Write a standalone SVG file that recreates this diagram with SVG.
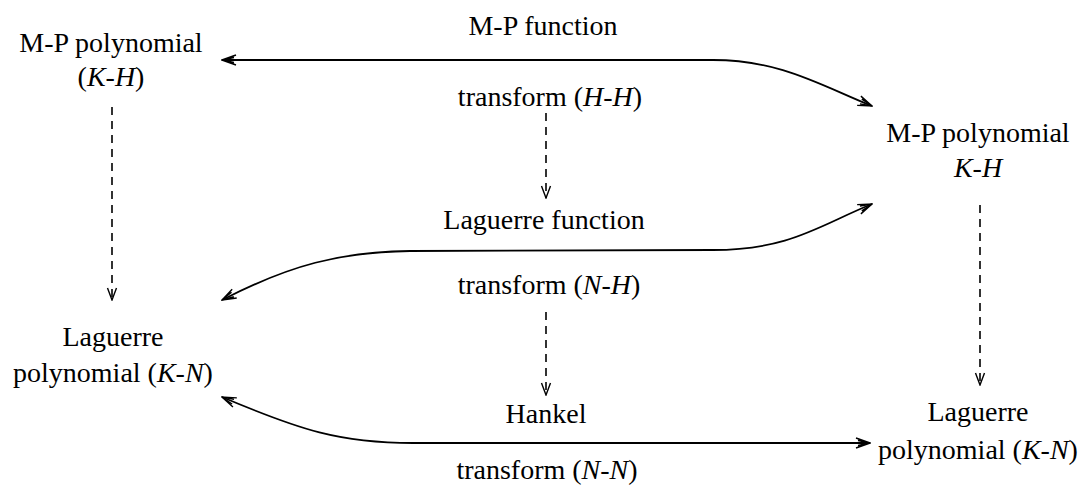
<svg xmlns="http://www.w3.org/2000/svg" width="1085" height="487" viewBox="0 0 1085 487">
<defs>
<marker id="ah" viewBox="0 0 16 12" refX="15" refY="6" markerWidth="16" markerHeight="12" markerUnits="userSpaceOnUse" orient="auto-start-reverse">
<path d="M1,1 L15,6 L1,11 M3,3.5 L15,6 L3,8.5" fill="none" stroke="#000" stroke-width="1.4"/>
</marker>
<marker id="dh" viewBox="0 0 12 14" refX="6" refY="13" markerWidth="12" markerHeight="14" markerUnits="userSpaceOnUse" orient="0">
<path d="M1.5,1 L6,13 L10.5,1" fill="none" stroke="#000" stroke-width="1.4"/>
</marker>
</defs>
<style>
text{font-family:"Liberation Serif","Times New Roman",serif;font-size:28px;fill:#000;text-anchor:middle}
.i{font-style:italic}
.c{fill:none;stroke:#000;stroke-width:1.8}
.d{fill:none;stroke:#000;stroke-width:1.6;stroke-dasharray:8 6}
</style>
<rect width="1085" height="487" fill="#fff"/>
<g id="connectors">
<path class="c" d="M222,60 L713,60 C780,60 820,85 872,106" marker-start="url(#ah)" marker-end="url(#ah)"/>
<path class="c" d="M222,300 C290,265 340,252 410,251 L713,250 C790,250 820,225 872,204" marker-start="url(#ah)" marker-end="url(#ah)"/>
<path class="c" d="M222,397 C300,430 340,443 413,443 L870,443" marker-start="url(#ah)" marker-end="url(#ah)"/>
<path class="d" d="M112,107 L112,300" marker-end="url(#dh)"/>
<path class="d" d="M546,113 L546,198" marker-end="url(#dh)"/>
<path class="d" d="M546,312 L546,395" marker-end="url(#dh)"/>
<path class="d" d="M980,205 L980,385" marker-end="url(#dh)"/>
</g>
<g id="mp-poly-left">
<text x="111" y="52">M-P polynomial</text>
<text x="111" y="86">(<tspan class="i">K-H</tspan>)</text>
</g>
<g id="mp-function">
<text x="543" y="35">M-P function</text>
<text x="550" y="106">transform (<tspan class="i">H-H</tspan>)</text>
</g>
<g id="mp-poly-right">
<text x="978" y="142">M-P polynomial</text>
<text x="978" y="177" class="i">K-H</text>
</g>
<g id="laguerre-function">
<text x="544" y="229">Laguerre function</text>
<text x="549" y="294">transform (<tspan class="i">N-H</tspan>)</text>
</g>
<g id="laguerre-poly-left">
<text x="113" y="346">Laguerre</text>
<text x="113" y="382">polynomial (<tspan class="i">K-N</tspan>)</text>
</g>
<g id="hankel">
<text x="546" y="423">Hankel</text>
<text x="547" y="479">transform (<tspan class="i">N-N</tspan>)</text>
</g>
<g id="laguerre-poly-right">
<text x="978" y="421">Laguerre</text>
<text x="978" y="459">polynomial (<tspan class="i">K-N</tspan>)</text>
</g>
</svg>
